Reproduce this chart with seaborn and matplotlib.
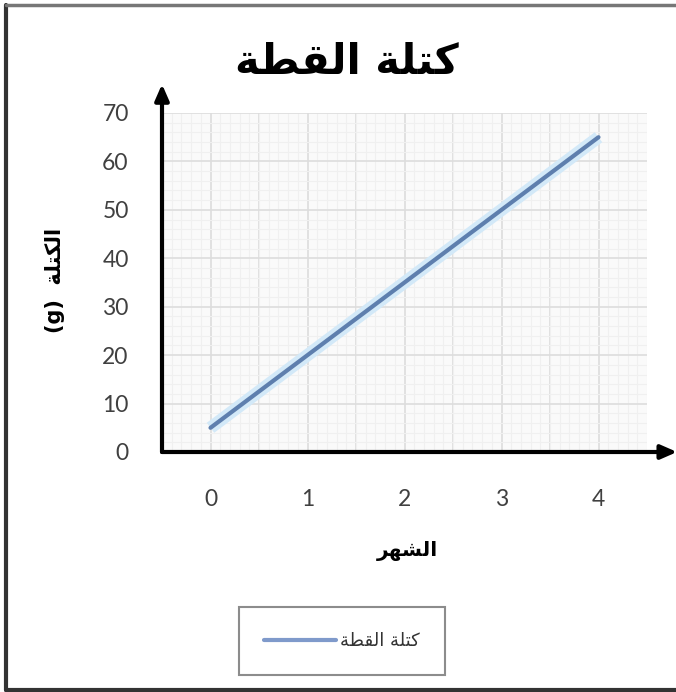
import matplotlib
matplotlib.use("Agg")
import matplotlib.pyplot as plt
from matplotlib.lines import Line2D
from matplotlib.ticker import MultipleLocator
import pandas as pd
import seaborn as sns

# ---- data ----
months = [0, 1, 2, 3, 4]
mass = [5, 20, 35, 50, 65]
yticks = [0, 10, 20, 30, 40, 50, 60, 70]
title_txt = "كتلة القطة"
xlabel_txt = "الشهر"
ylabel_word = "الكتلة"
ylabel_unit = "(g)"
series_name = "كتلة القطة"

# ---- minimal Arabic shaping (matplotlib has no bidi/shaping) ----
FORMS = {  # isolated, final, initial, medial
    "ا": (0xFE8D, 0xFE8E, None, None),
    "ر": (0xFEAD, 0xFEAE, None, None),
    "ة": (0xFE93, 0xFE94, None, None),
    "ل": (0xFEDD, 0xFEDE, 0xFEDF, 0xFEE0),
    "ك": (0xFED9, 0xFEDA, 0xFEDB, 0xFEDC),
    "ت": (0xFE95, 0xFE96, 0xFE97, 0xFE98),
    "ق": (0xFED5, 0xFED6, 0xFED7, 0xFED8),
    "ط": (0xFEC1, 0xFEC2, 0xFEC3, 0xFEC4),
    "ش": (0xFEB5, 0xFEB6, 0xFEB7, 0xFEB8),
    "ه": (0xFEE9, 0xFEEA, 0xFEEB, 0xFEEC),
}


def shape(s):
    out = []
    for i, c in enumerate(s):
        if c not in FORMS:
            out.append(c)
            continue
        prev = s[i - 1] if i > 0 else None
        nxt = s[i + 1] if i + 1 < len(s) else None
        jp = prev in FORMS and FORMS[prev][2] is not None
        jn = nxt in FORMS and FORMS[c][2] is not None
        f = FORMS[c]
        if jp and jn:
            cp = f[3]
        elif jp:
            cp = f[1]
        elif jn:
            cp = f[2]
        else:
            cp = f[0]
        out.append(chr(cp))
    return "".join(out[::-1])


df = pd.DataFrame({"month": months, "mass": mass})

sns.set_theme(style="white")
plt.rcParams["font.family"] = ["DejaVu Sans"]

fig = plt.figure(figsize=(6.76, 6.92), dpi=100)
ax = fig.add_axes([162 / 676, 1 - 452 / 692, 485 / 676, 339 / 692])
ax.set_facecolor("#FAFAFA")

# soft glow under the line
ax.plot(df["month"], df["mass"], color="#D3E9F8", lw=9, solid_capstyle="butt", zorder=2)
sns.lineplot(data=df, x="month", y="mass", ax=ax, color="#5E7FAE", lw=3,
             zorder=3, legend=False)

ax.set_xlim(-0.5, 4.5)
ax.set_ylim(0, 70)
ax.set_xticks(months)
ax.set_yticks(yticks)
ax.set_xticklabels([str(m) for m in months])
ax.set_yticklabels([str(v) for v in yticks])

ax.xaxis.set_minor_locator(MultipleLocator(0.1))
ax.yaxis.set_minor_locator(MultipleLocator(2))
ax.set_axisbelow(True)
ax.grid(True, which="minor", color="#F0F0F0", lw=0.8)
ax.grid(True, which="major", color="#DDDDDD", lw=1.2)
for xv in [-0.5, 0.5, 1.5, 2.5, 3.5]:
    ax.axvline(xv, color="#DDDDDD", lw=1.2, zorder=0)

for side in ["top", "right", "left", "bottom"]:
    ax.spines[side].set_visible(False)

ax.tick_params(axis="both", length=0, labelsize=16.5, labelcolor="#404040")
ax.tick_params(axis="y", pad=24)
ax.tick_params(axis="x", pad=27)
for lab in ax.get_xticklabels() + ax.get_yticklabels():
    lab.set_fontfamily("Lato")

# arrowed axes
arrow = dict(arrowstyle="-|>,head_width=0.35,head_length=0.8",
             color="black", lw=3, shrinkA=0, shrinkB=0)
ax.annotate("", xy=(0, 1.085), xytext=(0, 0), xycoords="axes fraction",
            arrowprops=arrow, annotation_clip=False)
ax.annotate("", xy=(1.062, 0), xytext=(0, 0), xycoords="axes fraction",
            arrowprops=arrow, annotation_clip=False)

ax.set_xlabel("")
ax.set_ylabel("")
fig.text(347 / 676, 1 - 62 / 692, shape(title_txt), ha="center", va="center",
         fontsize=30, fontweight="bold", color="black")
fig.text(407 / 676, 1 - 551 / 692, shape(xlabel_txt), ha="center", va="center",
         fontsize=14.5, fontweight="bold", color="black")
fig.text(55 / 676, 1 - 280 / 692, ylabel_unit + "  " + shape(ylabel_word),
         ha="center", va="center", rotation=90,
         fontsize=15, fontweight="bold", color="black")

handle = Line2D([], [], color="#7F9ACB", lw=3)
leg = fig.legend([handle], [shape(series_name)], loc="center",
                 bbox_to_anchor=(342 / 676, 1 - 641 / 692), frameon=True,
                 fancybox=False, fontsize=13, handlelength=4.0,
                 handletextpad=0.2, borderpad=1.4, edgecolor="#707070")
leg.get_frame().set_linewidth(1.5)
for t in leg.get_texts():
    t.set_color("#333333")

# outer frame (left, top, bottom only)
fig.add_artist(Line2D([6 / 676, 6 / 676], [1 - 690 / 692, 1 - 5 / 692],
                      transform=fig.transFigure, color="#333333", lw=3))
fig.add_artist(Line2D([6 / 676, 1.0], [1 - 5 / 692, 1 - 5 / 692],
                      transform=fig.transFigure, color="#777777", lw=2.5))
fig.add_artist(Line2D([6 / 676, 1.0], [1 - 690 / 692, 1 - 690 / 692],
                      transform=fig.transFigure, color="#333333", lw=3))

fig.savefig("out.png", dpi=100)
